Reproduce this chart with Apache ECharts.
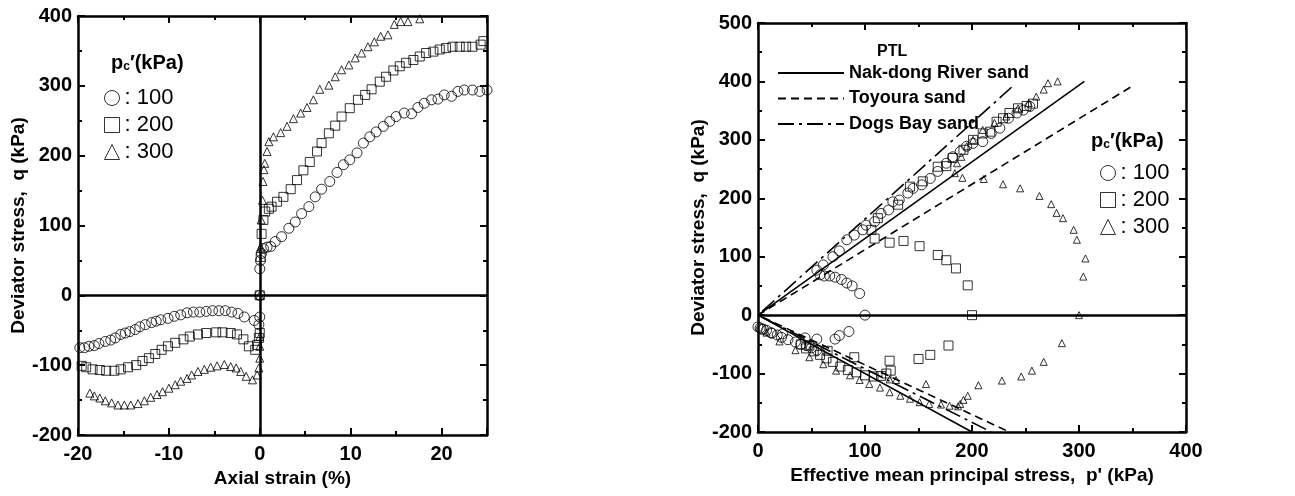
<!DOCTYPE html>
<html>
<head>
<meta charset="utf-8">
<script src="https://cdn.jsdelivr.net/npm/echarts@6/dist/echarts.min.js"></script>
<style>
  html, body { margin: 0; padding: 0; background: #fff; }
  #chart { width: 1295px; height: 496px; }
</style>
</head>
<body>
<div id="chart"></div>
<script>
// 左图: 轴向应变 vs 偏应力 (每个系列 [strain %, q kPa])
const strainQ100 = [
  [0, 38], [0.07, 50], [0.2, 60], [0.4, 67], [0.8, 69], [1.2, 70], [1.7, 77], [2.4, 84], [3.2, 96], [3.9, 105],
  [4.6, 117], [5.4, 127], [6.1, 141], [6.8, 152], [7.7, 163], [8.5, 176], [9.2, 187], [9.9, 194], [10.7, 204],
  [11.4, 218], [12.1, 227], [12.8, 234], [13.6, 242], [14.3, 249], [15.0, 256], [15.9, 261], [16.7, 260],
  [17.4, 269], [18.1, 275], [18.9, 280], [19.6, 281], [20.3, 287], [21.1, 285], [21.8, 292], [22.5, 294],
  [23.4, 294], [24.2, 292], [25, 294],
  [-19.8, -75], [-19.3, -75], [-18.8, -73], [-18.2, -72], [-17.7, -69], [-17, -66], [-16.4, -64], [-15.9, -61],
  [-15.3, -56], [-14.8, -54], [-14.3, -52], [-13.7, -49], [-13.2, -45], [-12.6, -42], [-11.9, -39], [-11.4, -37],
  [-10.9, -35], [-10.1, -33], [-9.4, -30], [-8.7, -28], [-8, -25], [-7.3, -24], [-6.6, -24], [-5.9, -23],
  [-5.2, -22], [-4.5, -22], [-3.8, -22], [-3.1, -24], [-2.4, -26], [-1.7, -31], [-0.6, -36], [0, -31],
  [-0.1, -42], [0, 0]
]
const strainQ200 = [
  [0.1, 55], [0.2, 88], [0.4, 108], [0.6, 120], [1, 124], [1.3, 127], [1.9, 134], [2.6, 141], [3.4, 152],
  [4.1, 165], [4.8, 179], [5.5, 191], [6.3, 206], [6.8, 218], [7.6, 232], [8.3, 243], [9.0, 256], [9.9, 268],
  [10.8, 280], [11.6, 287], [12.3, 295], [13.2, 306], [13.9, 313], [14.7, 322], [15.4, 328], [16.1, 333],
  [16.9, 337], [17.6, 342], [18.3, 347], [19.1, 349], [19.8, 352], [20.5, 354], [21.2, 356], [22, 356],
  [22.7, 356], [23.4, 356], [24.3, 359], [24.6, 364],
  [-19.6, -101], [-19.1, -103], [-18.4, -106], [-17.6, -107], [-16.9, -108], [-16.0, -108], [-15.3, -106],
  [-14.5, -103], [-13.6, -100], [-12.9, -94], [-12.2, -90], [-11.5, -84], [-10.8, -78], [-10.1, -73],
  [-9.3, -68], [-8.4, -63], [-7.7, -59], [-6.8, -56], [-5.9, -54], [-4.8, -53], [-4.1, -53], [-3.2, -54],
  [-2.5, -56], [-1.8, -63], [-1.2, -73], [-0.5, -78], [-0.3, -71], [-0.1, -61], [0, -54], [0, 0]
]
const strainQ300 = [
  [0.1, 69], [0.15, 108], [0.3, 136], [0.35, 163], [0.45, 180], [0.55, 189], [0.8, 206], [1, 220], [1.5, 227],
  [2.3, 233], [3, 242], [3.7, 253], [4.5, 261], [5.2, 269], [5.9, 280], [6.6, 295], [7.6, 301], [8.3, 313],
  [9, 323], [9.8, 330], [10.5, 340], [11.2, 347], [11.9, 356], [12.6, 363], [13.3, 371], [14.1, 373],
  [14.8, 388], [15.5, 392], [16.3, 392], [17.6, 396],
  [-18.7, -140], [-18.2, -144], [-17.6, -147], [-17, -151], [-16.3, -154], [-15.6, -157], [-14.9, -157],
  [-14.2, -157], [-13.4, -155], [-12.7, -151], [-12, -146], [-11.3, -142], [-10.7, -138], [-10, -133],
  [-9.3, -128], [-8.7, -123], [-8, -119], [-7.5, -114], [-6.8, -109], [-6.1, -106], [-5.4, -103], [-4.7, -101],
  [-3.9, -99], [-3.2, -102], [-2.6, -104], [-2.1, -109], [-1.5, -116], [-0.8, -121], [-0.3, -114],
  [-0.1, -104], [0, -90], [0, -73], [0, -59], [0, 0]
]

// 右图: 有效平均主应力 vs 偏应力 (每个系列 [p' kPa, q kPa])
const pq100 = [
  [100, 0], [95, 37], [88, 50], [83, 55], [78, 61], [72, 65], [67, 67], [62, 67], [58, 69], [55, 77], [61, 86],
  [70, 100], [76, 110], [83, 129], [90, 137], [98, 146], [101, 154], [109, 160], [115, 174], [122, 180],
  [126, 194], [132, 197], [140, 209], [145, 217], [153, 223], [161, 234], [168, 246], [176, 260], [182, 271],
  [189, 280], [195, 289], [201, 294], [210, 297], [218, 311], [226, 320], [234, 337], [242, 346], [248, 351],
  [254, 357],
  [85, -28], [76, -35], [72, -41], [55, -41], [44, -39], [23, -32], [12, -30], [3, -24], [0, -20], [2, -22],
  [5, -24], [8, -26], [13, -31], [18, -34], [22, -38], [28, -42], [35, -46], [40, -50], [45, -52], [50, -56],
  [55, -60]
]
const pq200 = [
  [200, 0], [196, 51], [185, 80], [176, 94], [168, 103], [151, 118], [136, 127], [123, 124], [109, 131],
  [106, 146], [112, 166], [131, 189], [142, 220], [154, 229], [168, 254], [176, 255], [182, 269], [192, 283],
  [201, 300], [210, 311], [217, 314], [223, 331], [229, 337], [235, 346], [243, 354], [251, 358], [257, 362],
  [178, -52], [161, -68], [150, -75], [123, -78], [90, -72], [65, -61], [48, -52], [40, -50], [45, -57],
  [52, -62], [58, -68], [64, -74], [70, -80], [77, -88], [84, -94], [92, -98], [100, -103], [108, -105],
  [115, -104], [120, -100], [124, -95]
]
const pq300 = [
  [300, 0], [304, 66], [306, 97], [298, 129], [295, 146], [285, 166], [279, 175], [274, 190], [263, 204],
  [245, 217], [229, 224], [211, 233], [191, 235], [184, 243], [186, 260], [190, 271], [195, 289], [201, 300],
  [210, 317], [221, 329], [232, 340], [243, 354], [253, 363], [260, 374], [267, 386], [271, 397], [280, 400],
  [284, -48], [267, -80], [256, -95], [246, -105], [228, -112], [206, -120], [196, -138], [192, -145],
  [189, -152], [187, -156], [179, -155], [171, -153], [160, -152], [157, -118], [151, -149], [142, -143],
  [133, -138], [129, -111], [123, -110], [123, -132], [114, -124], [104, -118], [95, -111], [86, -103],
  [73, -95], [61, -84], [48, -72], [35, -60], [20, -45], [8, -30]
]

// PTL 线 (压缩端点 - 原点 - 伸长端点)
const ptlNakdong = [[305, 400], [0, 0], [200, -200]]
const ptlToyoura = [[348, 390], [0, 0], [235, -200]]
const ptlDogsBay = [[237, 390], [0, 0], [218, -200]]

const pressures = ['100', '200', '300']
const ptlNames = ['Nak-dong River sand', 'Toyoura sand', 'Dogs Bay sand']

const FONT = "'Liberation Sans', Arial, sans-serif"

const chart = echarts.init(document.getElementById('chart'), null, { renderer: 'canvas' })

function axisBase(extra) {
  return {
    type: 'value',
    axisLine: { show: true, onZero: false, lineStyle: { color: '#000', width: 2.5 } },
    axisTick: { show: true, inside: true, length: 7, lineStyle: { color: '#000', width: 2 } },
    minorTick: { show: true, splitNumber: 2, length: 4, lineStyle: { color: '#000', width: 2 } },
    splitLine: { show: false },
    axisLabel: { color: '#000', fontFamily: FONT, fontWeight: 'bold', fontSize: 20 },
    nameTextStyle: { color: '#000', fontFamily: FONT, fontWeight: 'bold', fontSize: 19 },
    ...extra
  }
}
function sideAxis(extra) {
  return axisBase({ axisLabel: { show: false }, ...extra })
}

const pcTitle = (left, top) => ({
  text: '{p|p}{s|c}{p|′(kPa)}',
  left, top,
  textStyle: {
    rich: {
      p: { fontFamily: FONT, fontWeight: 'bold', fontSize: 20, color: '#000', lineHeight: 24, verticalAlign: 'bottom' },
      s: { fontFamily: FONT, fontWeight: 'bold', fontSize: 12, color: '#000', lineHeight: 18, verticalAlign: 'bottom' }
    }
  }
})

const markerStyle = { color: 'rgba(0,0,0,0)', borderColor: '#000', borderWidth: 1 }
const symbols = ['circle', 'rect', 'triangle']

function scatter(name, data, idx, symbol, size, extra) {
  return {
    type: 'scatter', name, data,
    xAxisIndex: idx, yAxisIndex: idx,
    symbol, symbolSize: size,
    itemStyle: markerStyle,
    silent: true, animation: false,
    ...extra
  }
}

const zeroLine = (lines) => ({
  silent: true, symbol: 'none', animation: false,
  label: { show: false },
  lineStyle: { color: '#000', width: 2.5, type: 'solid' },
  data: lines
})

function ptlLine(name, data, type) {
  return {
    type: 'line', name, data,
    xAxisIndex: 2, yAxisIndex: 2,
    symbol: 'none', silent: true, animation: false,
    color: '#000',
    itemStyle: { color: '#000' },
    lineStyle: { color: '#000', width: 1.6, type }
  }
}

const pcLegend = (left, top) => ({
  data: pressures.map((n, i) => ({ name: n, icon: symbols[i] })),
  orient: 'vertical', left, top,
  itemWidth: 15, itemHeight: 15, itemGap: 5,
  itemStyle: { color: 'rgba(0,0,0,0)', borderColor: '#000', borderWidth: 1 },
  formatter: ': {name}',
  textStyle: { fontFamily: FONT, fontSize: 22, color: '#000' },
  selectedMode: false
})

const option = {
  backgroundColor: '#fff',
  animation: false,
  title: [
    pcTitle(106, 44),
    pcTitle(1086, 122),
    { text: 'PTL', left: 872, top: 39, textStyle: { fontFamily: FONT, fontWeight: 'bold', fontSize: 16, color: '#000' } }
  ],
  legend: [
    pcLegend(99, 82),
    pcLegend(1095, 157),
    {
      data: ptlNames,
      orient: 'vertical', left: 772, top: 59,
      itemWidth: 66, itemHeight: 14, itemGap: 7.5,
      itemStyle: { color: 'rgba(0,0,0,0)', borderWidth: 0, opacity: 0 },
      textStyle: { fontFamily: FONT, fontWeight: 'bold', fontSize: 18, color: '#000' },
      selectedMode: false
    }
  ],
  grid: [
    { left: 78, top: 16, width: 409, height: 419 },
    { left: 758, top: 23, width: 428, height: 409 }
  ],
  xAxis: [
    axisBase({
      gridIndex: 0, min: -20, max: 25, interval: 10, position: 'bottom',
      axisLabel: { color: '#000', fontFamily: FONT, fontWeight: 'bold', fontSize: 20, margin: 9,
        formatter: v => (v === 25 ? '' : String(v)) },
      name: 'Axial strain (%)', nameLocation: 'middle', nameGap: 34
    }),
    sideAxis({ gridIndex: 0, min: -20, max: 25, interval: 10, position: 'top' }),
    axisBase({
      gridIndex: 1, min: 0, max: 400, interval: 100, position: 'bottom',
      axisLabel: { color: '#000', fontFamily: FONT, fontWeight: 'bold', fontSize: 20, margin: 9 },
      name: "Effective mean principal stress,  p' (kPa)", nameLocation: 'middle', nameGap: 31
    }),
    sideAxis({ gridIndex: 1, min: 0, max: 400, interval: 100, position: 'top' })
  ],
  yAxis: [
    axisBase({
      gridIndex: 0, min: -200, max: 400, interval: 100, position: 'left',
      axisLabel: { color: '#000', fontFamily: FONT, fontWeight: 'bold', fontSize: 20, margin: 6 },
      name: 'Deviator stress,  q (kPa)', nameLocation: 'middle', nameGap: 47
    }),
    sideAxis({ gridIndex: 0, min: -200, max: 400, interval: 100, position: 'right' }),
    axisBase({
      gridIndex: 1, min: -200, max: 500, interval: 100, position: 'left',
      axisLabel: { color: '#000', fontFamily: FONT, fontWeight: 'bold', fontSize: 20, margin: 6 },
      name: 'Deviator stress,  q (kPa)', nameLocation: 'middle', nameGap: 45
    }),
    sideAxis({ gridIndex: 1, min: -200, max: 500, interval: 100, position: 'right' })
  ],
  series: [
    scatter('100', strainQ100, 0, 'circle', 10, { markLine: zeroLine([{ yAxis: 0 }, { xAxis: 0 }]) }),
    scatter('200', strainQ200, 0, 'rect', 9),
    scatter('300', strainQ300, 0, 'triangle', 8),
    scatter('100', pq100, 2, 'circle', 10, { markLine: zeroLine([{ yAxis: 0 }]) }),
    scatter('200', pq200, 2, 'rect', 9),
    scatter('300', pq300, 2, 'triangle', 7),
    ptlLine(ptlNames[0], ptlNakdong, 'solid'),
    ptlLine(ptlNames[1], ptlToyoura, [8, 5]),
    ptlLine(ptlNames[2], ptlDogsBay, [16, 5, 3, 5])
  ]
}

chart.setOption(option)
</script>
</body>
</html>
